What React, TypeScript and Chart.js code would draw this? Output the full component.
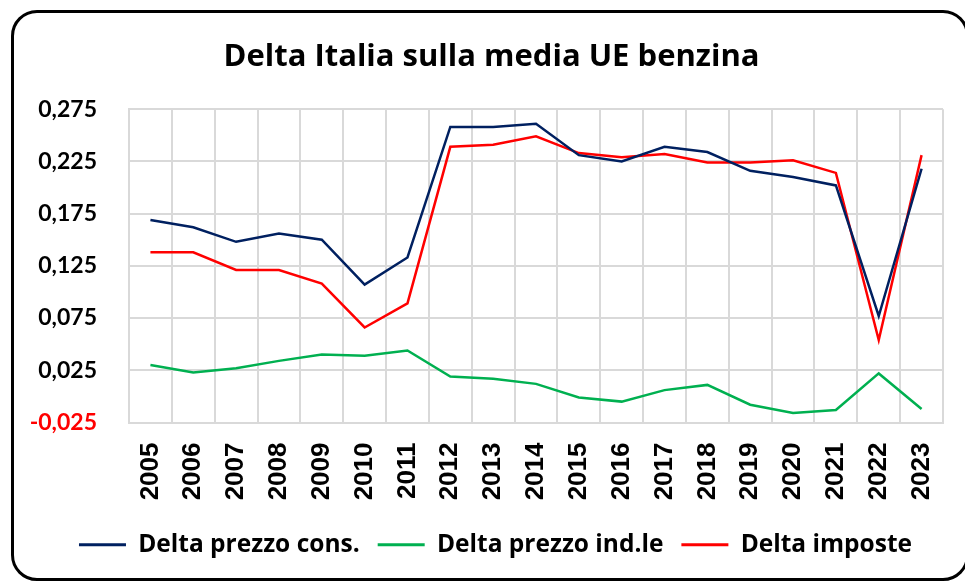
import React, { useEffect, useRef } from 'react';
import { Chart, registerables } from 'chart.js';

Chart.register(...registerables);

const years = ['2005', '2006', '2007', '2008', '2009', '2010', '2011', '2012', '2013', '2014', '2015', '2016', '2017', '2018', '2019', '2020', '2021', '2022', '2023'];
const deltaPrezzoCons = [0.169, 0.162, 0.148, 0.156, 0.150, 0.107, 0.133, 0.258, 0.258, 0.261, 0.231, 0.225, 0.239, 0.234, 0.216, 0.210, 0.202, 0.077, 0.218];
const deltaPrezzoInd = [0.030, 0.023, 0.027, 0.034, 0.040, 0.039, 0.044, 0.019, 0.017, 0.012, -0.001, -0.005, 0.006, 0.011, -0.008, -0.016, -0.013, 0.022, -0.012];
const deltaImposte = [0.138, 0.138, 0.121, 0.121, 0.108, 0.066, 0.089, 0.239, 0.241, 0.249, 0.233, 0.229, 0.232, 0.224, 0.224, 0.226, 0.214, 0.054, 0.231];
const seriesLabels = ['Delta prezzo cons.', 'Delta prezzo ind.le', 'Delta imposte'];
const seriesColors = ['#002060', '#00B050', '#FF0000'];
const titleText = 'Delta Italia sulla media UE benzina';

const shiftBlocks = {
  id: 'shiftBlocks',
  afterLayout(chart: any) {
    const lg = chart.legend;
    if (lg) {
      lg.left += 24;
      lg.right += 24;
    }
    const tb = chart.titleBlock;
    if (tb) {
      tb.left += 20;
      tb.right += 20;
    }
  },
};

export default function App() {
  const ref = useRef<HTMLCanvasElement | null>(null);
  useEffect(() => {
    if (!ref.current) return;
    const chart = new Chart(ref.current, {
      type: 'line',
      data: {
        labels: years,
        datasets: [deltaPrezzoCons, deltaPrezzoInd, deltaImposte].map((d, i) => ({
          label: seriesLabels[i],
          data: d,
          borderColor: seriesColors[i],
          backgroundColor: seriesColors[i],
          borderWidth: 2.5,
          pointRadius: 0,
          tension: 0,
          fill: false,
        })),
      },
      plugins: [shiftBlocks],
      options: {
        animation: false,
        responsive: false,
        devicePixelRatio: 1,
        layout: { padding: { left: 0, right: 22, top: 10, bottom: 15 } },
        plugins: {
          title: {
            display: true,
            text: titleText,
            color: '#000',
            font: { family: 'Open Sans', size: 31, weight: 'bold' },
            padding: { top: 29, bottom: 33 },
          },
          tooltip: { enabled: false },
          legend: {
            position: 'bottom',
            labels: {
              color: '#000',
              font: { family: 'Open Sans', size: 24.5, weight: 'bold' },
              boxWidth: 47,
              boxHeight: 3,
              padding: 18,
              generateLabels: (c: any) =>
                c.data.datasets.map((ds: any, i: number) => ({
                  text: ds.label,
                  fillStyle: ds.borderColor,
                  strokeStyle: ds.borderColor,
                  lineWidth: 0,
                  hidden: false,
                  datasetIndex: i,
                  fontColor: '#000',
                })),
            },
          },
        },
        scales: {
          x: {
            offset: true,
            grid: { offset: true, color: '#d9d9d9', lineWidth: 2, drawTicks: false },
            border: { color: '#d9d9d9', width: 2 },
            ticks: {
              minRotation: 90,
              maxRotation: 90,
              autoSkip: false,
              padding: 20,
              color: '#000',
              font: { family: 'Liberation Sans', size: 26, weight: 'bold' },
            },
            afterFit: (s: any) => {
              s.height = 92;
              s.paddingLeft = 0;
              s.paddingRight = 0;
            },
          },
          y: {
            min: -0.025,
            max: 0.275,
            grid: { color: '#d9d9d9', lineWidth: 2, drawTicks: false },
            border: { color: '#d9d9d9', width: 2 },
            ticks: {
              stepSize: 0.05,
              padding: 32,
              color: (ctx: any) => (ctx.tick && ctx.tick.value < -0.001 ? '#FF0000' : '#000'),
              font: { family: 'Lato', size: 23, weight: 'bold' },
              callback: (v: any) => Number(v).toFixed(3).replace('.', ','),
            },
            afterFit: (s: any) => {
              s.width = 129;
            },
          },
        },
      },
    });
    return () => chart.destroy();
  }, []);

  return (
    <div style={{ position: 'fixed', left: 0, top: 0, width: 965, height: 582, background: '#fff', overflow: 'hidden' }}>
      <canvas ref={ref} width={965} height={582} style={{ position: 'absolute', left: 0, top: 0, width: 965, height: 582 }} />
      <div
        style={{
          position: 'absolute',
          left: 11,
          top: 10,
          width: 958,
          height: 571,
          boxSizing: 'border-box',
          border: '3px solid #000',
          borderRadius: 26,
          pointerEvents: 'none',
        }}
      />
    </div>
  );
}
